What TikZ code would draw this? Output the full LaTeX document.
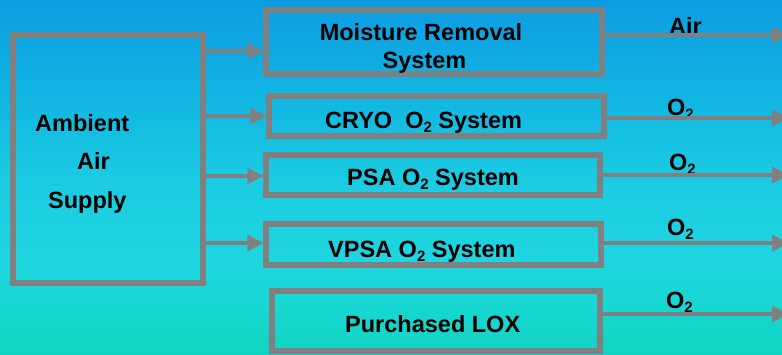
\documentclass[tikz,border=0pt]{standalone}
\usepackage{fontspec}
\setmainfont{Liberation Sans}
\usetikzlibrary{arrows.meta}

\definecolor{edgegray}{RGB}{128,128,128}
\definecolor{bgA}{RGB}{16,212,194}
\definecolor{bgB}{RGB}{24,215,212}
\definecolor{bgC}{RGB}{31,213,224}
\definecolor{bgD}{RGB}{27,203,226}
\definecolor{bgE}{RGB}{18,182,226}
\definecolor{bgF}{RGB}{12,156,226}
% the fill spans 25bp..75bp of the shading
\pgfdeclareverticalshading{skyfade}{100bp}{%
  color(0bp)=(bgA); color(25bp)=(bgA); color(32.5bp)=(bgB); color(38.5bp)=(bgC);
  color(49.5bp)=(bgD); color(61bp)=(bgE); color(75bp)=(bgF); color(100bp)=(bgF)}

\newcommand{\sub}[1]{\raisebox{-4.5pt}{\fontsize{15}{15}\selectfont #1}}

\tikzset{
  sysbox/.style={draw=edgegray, line width=5.5pt, inner sep=0pt, anchor=center},
  txt/.style={font=\fontsize{23.5}{28}\selectfont\bfseries, inner sep=0pt, text=black},
  feed/.style={draw=edgegray, line width=3.5pt, -{Triangle[length=16pt,width=16pt]}},
  yield/.style={draw=edgegray, line width=4pt, -{Triangle[length=16pt,width=16pt]}},
}

\begin{document}
\begin{tikzpicture}[x=1pt, y=-1pt]
\useasboundingbox (0,0) rectangle (782,354);
\clip (0,0) rectangle (782,354);
\shade[shading=skyfade] (0,0) rectangle (782,354);

% supply block and the five systems
\node[sysbox, minimum width=190pt, minimum height=248pt] (amb) at (108,159) {};
\node[sysbox, minimum width=336pt, minimum height=64pt] (moist) at (434,42) {};
\node[sysbox, minimum width=335pt, minimum height=40pt] (cryo) at (436.5,116) {};
\node[sysbox, minimum width=334pt, minimum height=40pt] (psa) at (433,175) {};
\node[sysbox, minimum width=335pt, minimum height=41pt] (vpsa) at (433.5,244.5) {};
\node[sysbox, minimum width=328pt, minimum height=60pt] (lox) at (436,321) {};

% box texts (base anchor of a multi-line node sits on its last line)
\node[txt, align=left, anchor=base west, font=\fontsize{23.5}{38.5}\selectfont\bfseries] (ambtxt) at (35,208)
  {Ambient\\\hspace*{42pt}Air\\\hspace*{13pt}Supply};
\node[txt, align=center, anchor=base] (moisttxt) at (421,68) {Moisture Removal\\\hspace*{7pt}System};
\node[txt, anchor=base west] (cryotxt) at (325,128) {CRYO\ \ O\sub{2} System};
\node[txt, anchor=base west] (psatxt) at (347,185) {PSA O\sub{2} System};
\node[txt, anchor=base west] (vpsatxt) at (328,257) {VPSA O\sub{2} System};
\node[txt, anchor=base west] (loxtxt) at (345,332) {Purchased LOX};

% product labels
\node[txt, anchor=base west] (lairs) at (669,34) {Air};
\node[txt, anchor=base west] (lcryo) at (667,115) {O\sub{2}};
\node[txt, anchor=base west] (lpsa) at (669,170) {O\sub{2}};
\node[txt, anchor=base west] (lvpsa) at (667,235) {O\sub{2}};
\node[txt, anchor=base west] (llox) at (666,308) {O\sub{2}};

% free ends of the product lines
\coordinate (oair) at (788,35);
\coordinate (ocryo) at (788,118);
\coordinate (opsa) at (788,175);
\coordinate (ovpsa) at (788,243);
\coordinate (olox) at (788,314);

% feeds from the supply
\draw[feed] (amb.east |- 0,51) -- (moist.west |- 0,51);
\draw[feed] (amb.east |- cryo.west) -- (cryo.west);
\draw[feed] (amb.east |- 0,176) -- (psa.west |- 0,176);
\draw[feed] (amb.east |- 0,243) -- (vpsa.west |- 0,243);

% products
\draw[yield] (moist.east |- oair) -- (oair);
\draw[yield] (cryo.east |- ocryo) -- (ocryo);
\draw[yield] (psa.east |- opsa) -- (opsa);
\draw[yield] (vpsa.east |- ovpsa) -- (ovpsa);
\draw[yield] (lox.east |- olox) -- (olox);
\end{tikzpicture}
\end{document}
